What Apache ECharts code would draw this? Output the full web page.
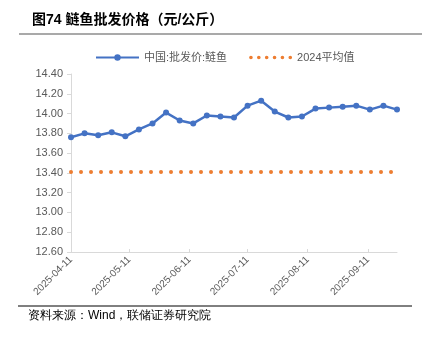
<!DOCTYPE html>
<html><head><meta charset="utf-8">
<script src="https://cdn.jsdelivr.net/npm/echarts@6/dist/echarts.min.js"></script>
<style>html,body{margin:0;padding:0;background:#fff}#c{width:432px;height:342px}</style>
</head><body><div id="c"></div>
<script>
var dates = ['2025-04-11','2025-04-18','2025-04-25','2025-05-02','2025-05-09','2025-05-16','2025-05-23','2025-05-30',
  '2025-06-06','2025-06-13','2025-06-20','2025-06-27','2025-07-04','2025-07-11','2025-07-18','2025-07-25',
  '2025-08-01','2025-08-08','2025-08-15','2025-08-22','2025-08-29','2025-09-05','2025-09-12','2025-09-19','2025-09-26'];
var silverCarp = [13.76,13.80,13.78,13.81,13.77,13.84,13.90,14.01,13.93,13.90,13.98,13.97,13.96,14.08,14.13,14.02,
  13.96,13.97,14.05,14.06,14.07,14.08,14.04,14.08,14.04];
var avg2024 = 13.41;
var tickDates = ['2025-04-11','2025-05-11','2025-06-11','2025-07-11','2025-08-11','2025-09-11'];
var seriesNames = ['中国:批发价:鲢鱼','2024平均值'];

function ts(d){ var p=d.split('-'); return Date.UTC(+p[0],+p[1]-1,+p[2]); }
function fmt(v){ var d=new Date(v); var m=d.getUTCMonth()+1, dd=d.getUTCDate();
  return d.getUTCFullYear()+'-'+(m<10?'0':'')+m+'-'+(dd<10?'0':'')+dd; }
var tickVals = tickDates.map(ts);
var lineData = dates.map(function(d,i){ return [ts(d), silverCarp[i]]; });
var avgData = [[ts(dates[0]), avg2024],[ts(dates[dates.length-1]), avg2024]];

// legend icon: six round dots
var dotPath = 'path://';
for (var k = 0; k < 6; k++) {
  var cx = k * 8.6;
  dotPath += 'M' + (cx) + ',2a2,2 0 1,0 4,0a2,2 0 1,0 -4,0Z';
}

var chart = echarts.init(document.getElementById('c'), null, {renderer:'canvas'});
var font = 'Arial, "Liberation Sans", "Noto Sans CJK SC", sans-serif';
chart.setOption({
  animation:false,
  textStyle:{fontFamily:font},
  title:{text:'图74 鲢鱼批发价格（元/公斤）', left:27, top:8,
    textStyle:{fontSize:14, fontWeight:'bold', color:'#000', fontFamily:font}},
  legend:{top:47, left:90, itemGap:22, itemWidth:43, itemHeight:8,
    textStyle:{fontSize:11, color:'#595959', fontFamily:font},
    data:[{name:seriesNames[0]}, {name:seriesNames[1], icon:dotPath, itemHeight:4}]},
  grid:{left:71, right:35, top:74, bottom:90, containLabel:false},
  xAxis:{type:'value', min:ts(dates[0]), max:ts(dates[dates.length-1]),
    axisLine:{lineStyle:{color:'#d9d9d9', width:1}},
    axisTick:{show:true, inside:true, length:3, customValues:tickVals, lineStyle:{color:'#d9d9d9'}},
    axisLabel:{customValues:tickVals, rotate:45, fontSize:10, color:'#595959', margin:6,
      formatter:function(v){return fmt(v);}},
    splitLine:{show:false}},
  yAxis:{type:'value', min:12.6, max:14.4, interval:0.2,
    axisLine:{show:true, lineStyle:{color:'#d9d9d9', width:1}},
    axisTick:{show:true, length:4, lineStyle:{color:'#d9d9d9'}},
    axisLabel:{fontSize:11, color:'#595959', margin:8, formatter:function(v){return v.toFixed(2);}},
    splitLine:{show:false}},
  series:[
    {name:seriesNames[0], type:'line', data:lineData, symbol:'circle', symbolSize:6, showSymbol:true,
      itemStyle:{color:'#4472C4'}, lineStyle:{color:'#4472C4', width:2.5}},
    {name:seriesNames[1], type:'line', data:avgData, symbol:'none', showSymbol:false,
      itemStyle:{color:'#ED7D31'}, lineStyle:{color:'#ED7D31', width:4, type:[0.01,9.99], cap:'round'}}
  ],
  graphic:[
    {type:'line', shape:{x1:19,y1:34,x2:422,y2:34}, style:{stroke:'#8c8c8c', lineWidth:1.5}},
    {type:'line', shape:{x1:18,y1:306,x2:412,y2:306}, style:{stroke:'#000', lineWidth:1}},
    {type:'text', left:28, top:310, style:{text:'资料来源：Wind，联储证券研究院', fontSize:12, fill:'#000',
      font:'12px "Noto Sans CJK SC", sans-serif'}}
  ]
});
</script></body></html>
